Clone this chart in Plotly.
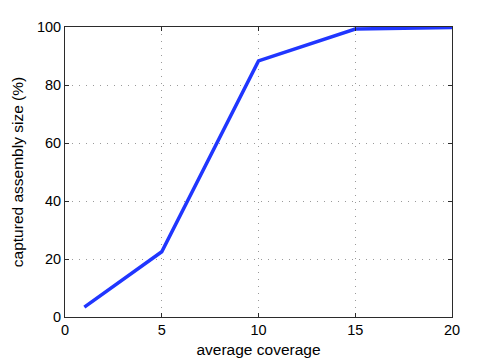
import plotly.graph_objects as go

# ── data ───────────────────────────────────────────────────────────────────────
coverage = [1, 5, 10, 15, 20]
captured_pct = [3.4, 22.5, 88.3, 99.3, 99.8]

x_ticks = [0, 5, 10, 15, 20]
y_ticks = [0, 20, 40, 60, 80, 100]

FONT = 'Liberation Sans, Arial, sans-serif'
AXIS = dict(
    showline=True, linecolor='#2b2b2b', linewidth=1, mirror='ticks',
    ticks='inside', ticklen=4, tickcolor='#2b2b2b',
    showgrid=True, gridcolor='#9a9a9a', griddash='1px,6px', gridwidth=1,
    zeroline=False, automargin=False,
    tickfont=dict(size=14.5, color='black', family=FONT),
)

fig = go.Figure()
fig.add_trace(go.Scatter(
    x=coverage, y=captured_pct,
    mode='lines',
    line=dict(color='#2036ff', width=3.5),
    showlegend=False,
))

# page body has an 8px margin, so the figure is sized to fit inside the window
fig.update_layout(
    width=490, height=352,
    paper_bgcolor='white', plot_bgcolor='white',
    font=dict(family=FONT, size=14, color='black'),
    margin=dict(l=57, r=46, t=19, b=43),
    xaxis=dict(**AXIS, range=[0, 20], tickvals=x_ticks,
               title=dict(text='average coverage', standoff=6,
                          font=dict(size=15.5, family=FONT))),
    yaxis=dict(**AXIS, range=[0, 100], tickvals=y_ticks,
               title=dict(text='captured assembly size (%)', standoff=9,
                          font=dict(size=15.5, family=FONT))),
)

fig.write_html('out.html')
